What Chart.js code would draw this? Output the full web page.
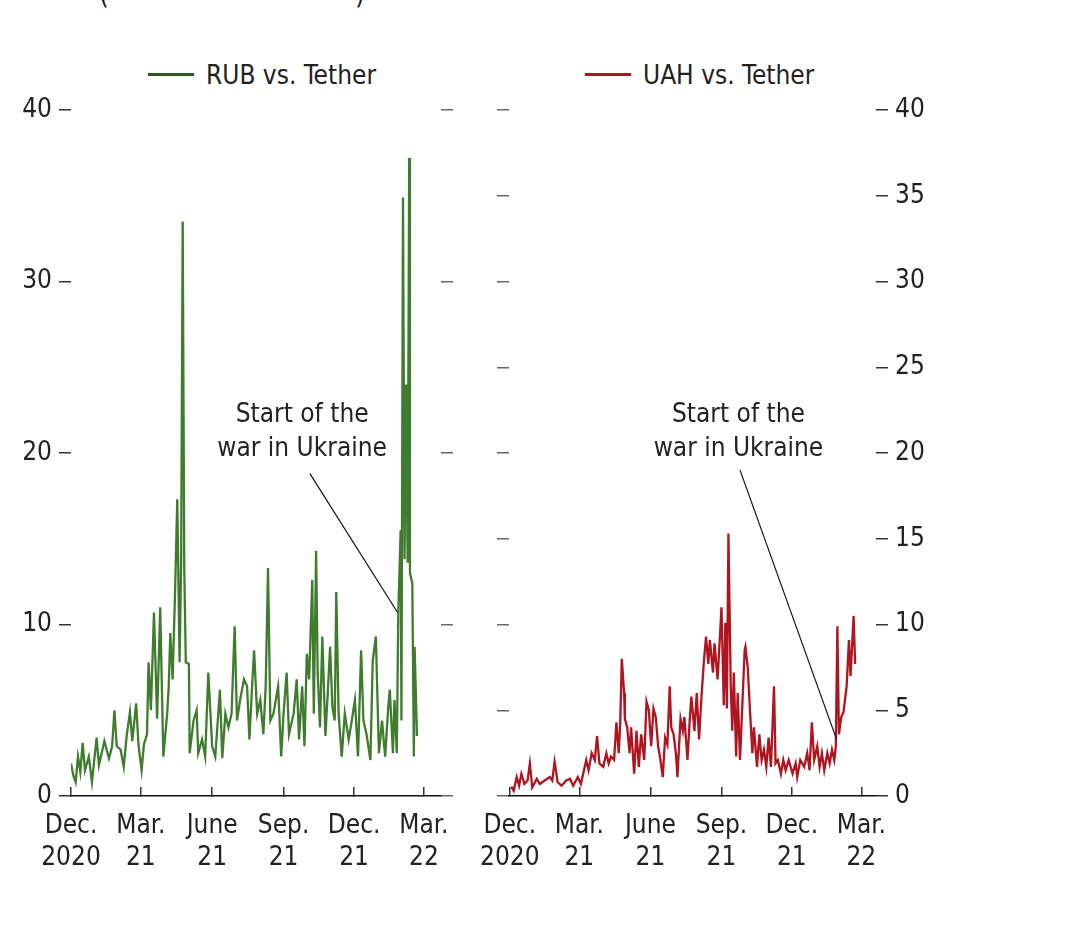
<!DOCTYPE html>
<html>
<head>
<meta charset="utf-8">
<script src="https://cdn.jsdelivr.net/npm/chart.js@4.4.1/dist/chart.umd.min.js"></script>
<style>
  html, body { margin: 0; padding: 0; background: #fff; }
  body { width: 1080px; height: 928px; position: relative; overflow: hidden;
         font-family: "Liberation Sans Narrow", "Arial Narrow", "DejaVu Sans Condensed", sans-serif; color: #222; }
  canvas { position: absolute; top: 0; }
  #left { left: 0; }
  #right { left: 475px; }
  .legend { position: absolute; top: 59px; font-size: 26px; line-height: 32px; white-space: nowrap; }
  .legend span.ln { display: inline-block; width: 46px; height: 3px; vertical-align: middle; margin-right: 12px; position: relative; top: -2px; }
  .cut { position: absolute; top: -19px; font-size: 28px; line-height: 28px; }
</style>
</head>
<body>
<div class="cut" style="left:99px">(</div>
<div class="cut" style="left:355px">)</div>
<div class="legend" style="left:148px"><span class="ln" style="background:#265a1b"></span>RUB vs. Tether</div>
<div class="legend" style="left:585px"><span class="ln" style="background:#b0141f"></span>UAH vs. Tether</div>
<canvas id="left" width="475" height="928"></canvas>
<canvas id="right" width="605" height="928"></canvas>
<script>
// x values are days since 1 Dec 2020
var tickDays = [0, 90, 182, 274, 365, 455];
var tickLabels = [['Dec.', '2020'], ['Mar.', '21'], ['June', '21'], ['Sep.', '21'], ['Dec.', '21'], ['Mar.', '22']];

var rubDays = [0,3,6,9,12,15,18,23,27,33,36,40,43,49,53,56,59,64,68,72,76,79,84,87,91,94,98,100,103,107,
  111,115,119,124,126,128,131,134,137,140,142,144,146,148,152,153,158,162,164,169,173,177,182,186,192,195,199,
  203,207,211,214,218,223,227,230,233,236,240,244,248,251,254,257,261,267,271,274,278,281,287,291,294,298,301,
  304,307,311,313,316,318,321,324,328,331,334,337,340,342,345,349,353,358,362,366,370,374,377,381,386,389,393,
  397,401,405,409,411,415,417,420,422,425,426,428,430,432,434,436,437,440,442,443,446];
var rubValues = [1.9,1.2,0.8,2.3,1.4,3.1,1.5,2.3,0.8,3.4,1.8,2.6,3.2,2.2,2.9,5.0,2.9,2.7,1.7,3.6,4.9,3.2,5.4,3.0,1.5,3.0,3.6,7.8,5.0,10.7,
  4.5,11.0,2.3,4.8,6.4,9.5,6.8,11.6,17.3,7.8,13.6,33.5,13.3,7.8,7.7,2.5,4.4,5.0,2.5,3.3,2.3,7.2,2.9,2.3,6.2,2.2,4.8,
  4.0,4.8,9.9,4.4,5.6,6.8,6.4,3.3,6.0,8.5,4.8,5.6,3.6,6.4,13.3,4.4,4.8,6.4,2.3,4.8,7.2,3.6,4.8,6.8,3.3,6.4,2.9,
  8.3,6.8,12.6,4.8,14.3,7.2,4.0,9.3,3.5,6.0,8.7,5.2,4.4,11.9,4.8,2.3,4.8,3.3,4.4,5.6,2.3,8.5,4.4,3.6,2.1,7.9,9.3,
  2.5,4.4,2.3,5.2,6.2,2.5,5.6,2.5,10.8,15.5,4.4,34.9,13.8,24.0,13.6,37.2,13.0,12.4,2.3,8.7,3.5];

var uahDays = [2,5,9,12,15,19,23,26,29,35,39,45,52,55,58,62,67,73,78,82,88,92,95,99,102,106,110,113,116,121,125,128,
  131,135,138,141,143,145,148,149,152,155,157,161,164,167,170,174,177,180,183,186,189,192,195,198,201,204,207,209,
  212,215,217,221,224,226,230,233,235,239,242,245,248,251,254,257,259,263,265,269,272,274,277,279,281,283,286,288,
  290,293,295,298,301,304,305,308,311,314,316,320,323,326,329,332,335,338,342,344,347,351,354,357,361,366,370,372,
  376,381,385,388,391,394,398,401,404,407,411,414,417,420,422,424,426,429,432,436,439,441,443,445,447];
var uahValues = [0.55,0.3,1.1,0.6,1.3,0.7,0.9,1.9,0.5,1.0,0.7,0.9,1.1,0.9,2.0,0.8,0.6,0.9,1.0,0.6,1.1,0.7,1.3,2.1,1.5,2.5,2.1,3.5,1.9,1.7,2.5,1.9,
  2.3,2.1,4.3,2.5,4.3,8.0,6.0,4.5,4.0,2.5,4.0,1.3,3.8,1.7,3.6,2.1,5.5,5.0,2.9,5.1,4.6,2.9,2.1,1.1,3.4,3.0,6.4,4.0,
  3.6,2.5,1.1,4.5,3.8,4.6,2.1,4.5,5.8,3.8,6.0,3.3,5.7,7.7,9.3,7.7,9.1,7.2,8.9,6.8,9.3,11.0,5.3,10.1,5.1,15.3,6.4,3.8,
  7.2,2.3,6.0,2.1,5.3,8.5,8.7,7.5,4.9,2.5,4.0,1.7,3.6,2.1,2.7,1.7,3.4,1.7,6.4,1.9,2.1,1.3,2.1,1.5,2.1,1.3,1.9,1.1,
  2.1,1.7,2.5,1.5,4.3,2.1,2.9,1.7,2.5,1.5,2.5,1.9,2.7,2.1,2.9,9.9,3.6,4.6,4.9,6.4,9.1,7.0,8.7,10.5,7.7];

var FONT = '"Liberation Sans Narrow", "Arial Narrow", "DejaVu Sans Condensed", sans-serif';
var FS = 26;
var TXT = '#222';

function toPoints(days, vals) {
  return days.map(function (d, i) { return { x: d, y: vals[i] }; });
}

// text + pointer line for "Start of the war in Ukraine"
var notePlugin = {
  id: 'note',
  afterDatasetsDraw: function (chart, args, o) {
    var ctx = chart.ctx, x = chart.scales.x, y = chart.scales.y;
    ctx.save();
    ctx.font = FS + 'px ' + FONT;
    ctx.fillStyle = TXT;
    ctx.textAlign = 'center';
    ctx.textBaseline = 'middle';
    ctx.fillText('Start of the', x.getPixelForValue(o.textDay), y.getPixelForValue(o.textVal));
    ctx.fillText('war in Ukraine', x.getPixelForValue(o.textDay), y.getPixelForValue(o.textVal) + 34);
    ctx.strokeStyle = '#111';
    ctx.lineWidth = 1.2;
    ctx.beginPath();
    ctx.moveTo(x.getPixelForValue(o.fromDay), y.getPixelForValue(o.fromVal));
    ctx.lineTo(x.getPixelForValue(o.toDay), y.getPixelForValue(o.toVal));
    ctx.stroke();
    ctx.restore();
  }
};

function yAxis(pos, step, labels, width) {
  return {
    type: 'linear', position: pos, min: 0, max: 40,
    afterBuildTicks: function (s) {
      var t = [];
      for (var v = 0; v <= 40; v += step) t.push({ value: v });
      s.ticks = t;
    },
    afterFit: function (s) { s.width = width; },
    border: { display: false },
    grid: { drawOnChartArea: false, drawTicks: true, tickLength: 12, color: labels ? '#333' : '#666', lineWidth: 1.5 },
    ticks: { display: labels, padding: 7, color: TXT, font: { family: FONT, size: FS } }
  };
}

function makeChart(id, label, color, days, vals, xMin, xMax, yL, yR, pad, note) {
  return new Chart(document.getElementById(id), {
    type: 'line',
    data: {
      datasets: [{
        label: label,
        data: toPoints(days, vals),
        borderColor: color,
        borderWidth: 2.3,
        pointRadius: 0,
        tension: 0,
        fill: false
      }]
    },
    options: {
      responsive: false,
      animation: false,
      devicePixelRatio: 1,
      layout: { padding: pad },
      plugins: { legend: { display: false }, tooltip: { enabled: false }, note: note },
      scales: {
        x: {
          type: 'linear', min: xMin, max: xMax,
          afterBuildTicks: function (s) { s.ticks = tickDays.map(function (d) { return { value: d }; }); },
          afterFit: function (s) { s.height = 132; s.paddingLeft = 0; s.paddingRight = 0; },
          border: { display: true, color: '#111', width: 1.5 },
          grid: { drawOnChartArea: false, drawTicks: true, tickLength: -9, color: '#333', lineWidth: 1.5 },
          ticks: {
            padding: 23, color: TXT, maxRotation: 0, autoSkip: false,
            font: { family: FONT, size: FS, lineHeight: 1.23 },
            callback: function (v) { return tickLabels[tickDays.indexOf(v)]; }
          }
        },
        y: yL,
        y2: yR
      }
    },
    plugins: [notePlugin]
  });
}

makeChart('left', 'RUB vs. Tether', '#3f7c2e', rubDays, rubValues, 0, 477,
  yAxis('left', 10, true, 71), yAxis('right', 10, false, 12),
  { top: 110, left: 0, right: 22, bottom: 0 },
  { textDay: 298, textVal: 22.2, fromDay: 308, fromVal: 18.8, toDay: 421, toVal: 10.7 });

makeChart('right', 'UAH vs. Tether', '#b0141f', uahDays, uahValues, -1, 474,
  yAxis('left', 5, false, 34), yAxis('right', 5, true, 60),
  { top: 110, left: 0, right: 144, bottom: 0 },
  { textDay: 296, textVal: 22.2, fromDay: 298, fromVal: 19.0, toDay: 423, toVal: 3.3 });
</script>
</body>
</html>
